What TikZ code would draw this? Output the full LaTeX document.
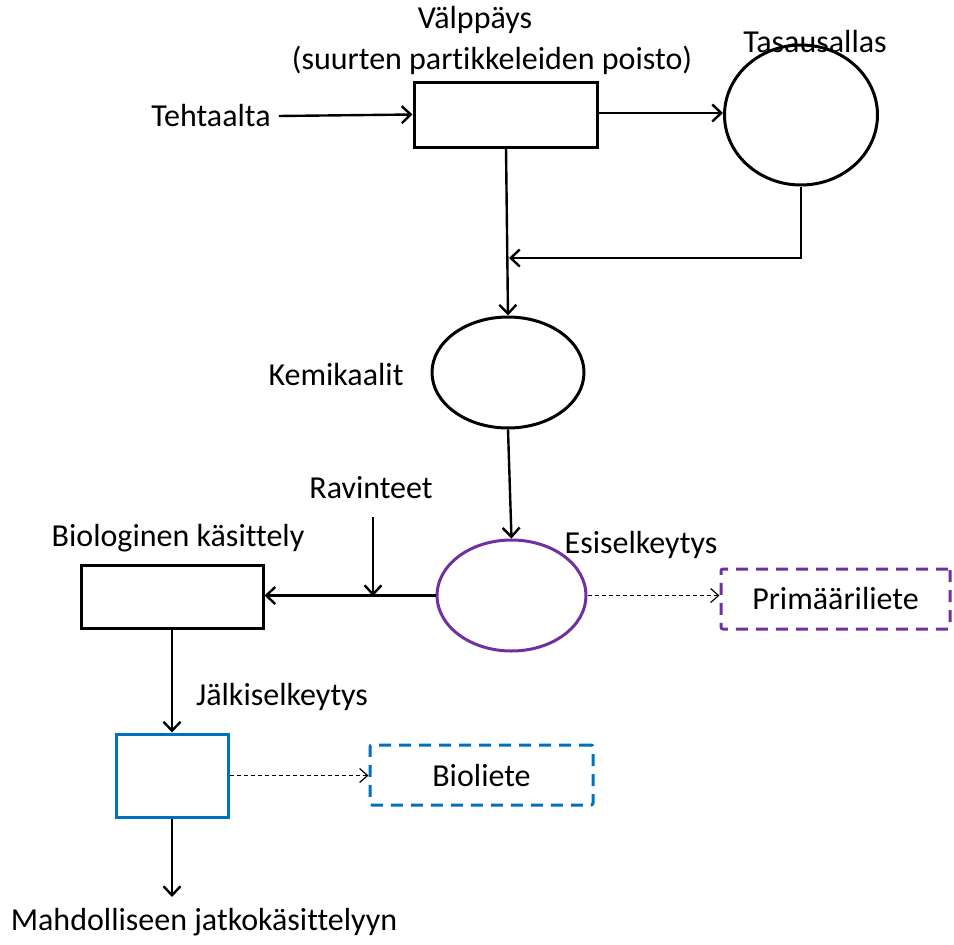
\documentclass[tikz,border=0pt]{standalone}
\usepackage{fontspec}
\setmainfont{Carlito}[Ligatures=NoCommon]
\usetikzlibrary{arrows.meta,shapes.geometric}
\definecolor{purp}{HTML}{7030A0}
\definecolor{blu}{HTML}{0070C0}
\begin{document}
\begin{tikzpicture}[x=1pt,y=-1pt,
  every node/.style={font=\fontsize{32}{38}\selectfont, inner sep=0pt},
  lbl/.style={anchor=center},
  boxk/.style={draw=black, line width=3pt, rectangle},
  ell/.style={draw=black, line width=3pt, ellipse},
  arr/.style={line width=2.4pt, -{Straight Barb[length=9pt,width=17pt,line width=2.4pt]}},
  darr/.style={line width=1.2pt, dash pattern=on 4pt off 3pt, -{Straight Barb[length=8pt,width=14pt,line width=1.2pt]}},
  dbox/.style={line width=3pt, dash pattern=on 12pt off 8pt, rounded corners=2pt, rectangle}]
\useasboundingbox (0,0) rectangle (954,945);
% nodes
\node[boxk, minimum width=183pt, minimum height=65pt] (val) at (505.5,114.5) {};
\node[lbl] (valt1) at (475,20) {Välppäys};
\node[lbl] (valt2) at (492,60) {(suurten partikkeleiden poisto)};
\node[lbl] (teh) at (211,116) {Tehtaalta};
\node[ell, minimum width=153pt, minimum height=140pt] (tas) at (801,115) {};
\node[lbl] (tast) at (815,42) {Tasausallas};
\coordinate (j) at (510,258);
\node[ell, minimum width=152pt, minimum height=111pt] (kem) at (508,372.5) {};
\node[lbl] (kemt) at (336,375) {Kemikaalit};
\node[ell, draw=purp, minimum width=149pt, minimum height=111pt] (esi) at (511.5,595.5) {};
\node[lbl] (esit) at (641,545) {Esiselkeytys};
\node[dbox, draw=purp, minimum width=229pt, minimum height=60pt] (prim) at (835.5,599) {Primääriliete};
\node[lbl] (ravt) at (371,488) {Ravinteet};
\coordinate (rtop) at (373,517);
\coordinate (rj) at (373,596);
\node[boxk, minimum width=182pt, minimum height=63pt] (bio) at (172,596.5) {};
\node[lbl] (biot) at (178,538) {Biologinen käsittely};
\node[lbl] (jalt) at (282,697) {Jälkiselkeytys};
\node[draw=blu, line width=3pt, rectangle, minimum width=112pt, minimum height=83pt] (jal) at (172,775.5) {};
\node[dbox, draw=blu, minimum width=223pt, minimum height=60pt] (bli) at (481.5,775) {Bioliete};
\node[lbl] (mah) at (204,922) {Mahdolliseen jatkokäsittelyyn};
\coordinate (mend) at (172,897);
% connectors
\draw[arr] (teh.east)++(8pt,0) -- (val.west);
\draw[arr] (val.east |- 0,113) -- (tas.west |- 0,113);
\draw[line width=2.4pt] (tas.south) |- (j);
\draw[arr] (tas.south |- j) ++(-2pt,0) -- ([xshift=-1pt]j);
\draw[arr] (506,147) -- (kem.north);
\draw[arr] (kem.south) -- (esi.north);
\draw[darr] (esi.east) -- (prim.west |- esi.east);
\draw[arr] (esi.west) -- (bio.east |- esi.west);
\draw[arr] (rtop) -- (rj);
\draw[arr] (bio.south) -- (jal.north);
\draw[darr] (jal.east) -- (bli.west |- jal.east);
\draw[arr] (jal.south) -- (mend);
\end{tikzpicture}
\end{document}
